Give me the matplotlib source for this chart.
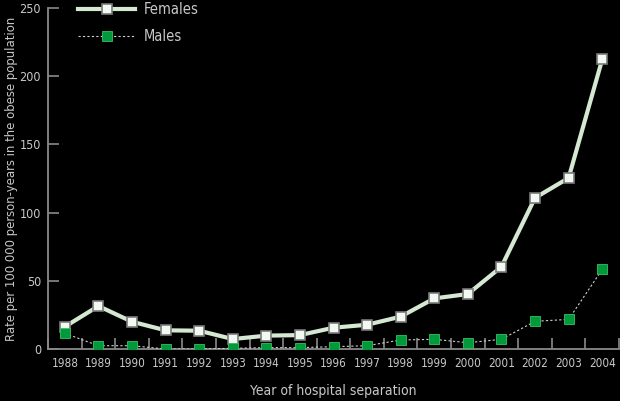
import numpy as np
import matplotlib.pyplot as plt

years = ['1988', '1989', '1990', '1991', '1992', '1993', '1994', '1995', '1996',
         '1997', '1998', '1999', '2000', '2001', '2002', '2003', '2004']
females = [16.3, 31.5, 20.0, 13.7, 13.4, 7.3, 9.8, 10.2, 15.6,
           17.8, 23.7, 37.1, 40.3, 60.3, 110.8, 125.4, 212.3]
males = [11.5, 2.4, 2.4, 0.0, 0.0, 0.5, 1.0, 1.0, 1.7,
         2.4, 6.6, 7.1, 4.6, 7.1, 20.3, 21.7, 58.3]
yticks = [0, 50, 100, 150, 200, 250]

# narrow text like the reference
plt.rcParams['font.family'] = ['DejaVu Sans']
plt.rcParams['font.stretch'] = 'condensed'

txt = '#c8c8c8'
axc = '#8a8a8a'

fig = plt.figure(figsize=(6.2, 4.01), dpi=100, facecolor='black')
ax = fig.add_axes([48/620, 1 - 349/401, 571/620, 341/401])
ax.set_facecolor('black')

x = np.arange(len(years))
ax.plot(x, females, color='#d4e8d2', lw=3, marker='s', ms=7.5,
        mfc='#f2f8f2', mec='#7a7a7a', mew=1.2, label='Females', zorder=3)
ax.plot(x, males, color='#d0d0d0', lw=0.8, ls=(0, (2, 2)), marker='s', ms=7.5,
        mfc='#009a3c', mec='#3cc060', mew=0.6, label='Males', zorder=4)

ax.set_xlim(-0.5, len(years) - 0.5)
ax.set_ylim(0, 250)
ax.set_xticks(x)
ax.set_xticklabels(years)
ax.set_xticks(np.arange(-0.5, len(years)), minor=True)
ax.tick_params(axis='x', which='major', length=0, pad=6, labelsize=8.5, labelcolor=txt)
ax.tick_params(axis='x', which='minor', direction='in', length=8, color=axc, width=1.2)
ax.set_yticks(yticks)
ax.tick_params(axis='y', direction='in', length=8, color=axc, width=1.2,
               labelsize=9, labelcolor=txt, pad=5)

for s in ['top', 'right']:
    ax.spines[s].set_visible(False)
for s in ['left', 'bottom']:
    ax.spines[s].set_color(axc)
    ax.spines[s].set_linewidth(1.3)

ax.set_xlabel('Year of hospital separation', color=txt, fontsize=10, labelpad=10)
ax.set_ylabel('Rate per 100 000 person-years in the obese population',
              color=txt, fontsize=9.4, labelpad=1)

leg = ax.legend(loc='upper left', bbox_to_anchor=(0.03, 1.055), frameon=False,
                fontsize=10.5, labelcolor=txt, handlelength=3.9, labelspacing=0.8,
                handletextpad=0.6)

fig.savefig('out.png', dpi=100, facecolor='black')
